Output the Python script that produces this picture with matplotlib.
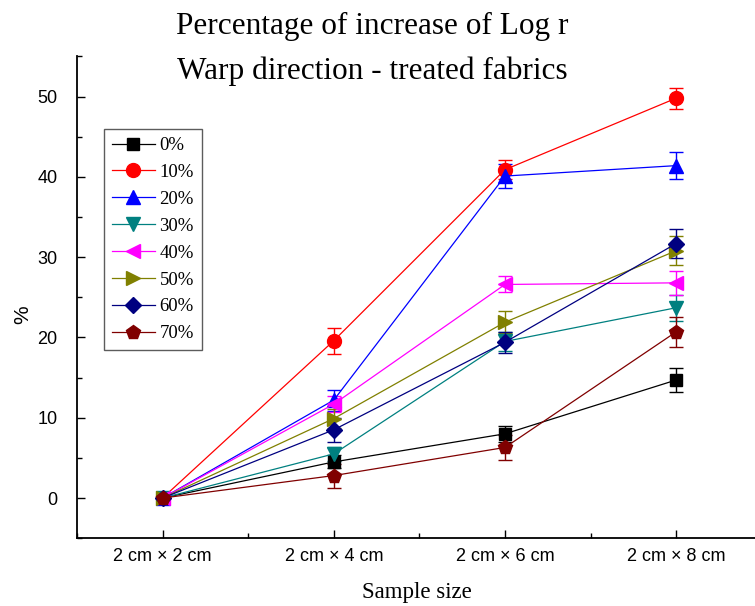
import matplotlib.pyplot as plt
import numpy as np
from matplotlib.lines import Line2D
from matplotlib.ticker import MultipleLocator

# Sample sizes (x categories) and the increase of log r per treatment level
sizes = ["2 cm × 2 cm", "2 cm × 4 cm", "2 cm × 6 cm", "2 cm × 8 cm"]
labels = ["0%", "10%", "20%", "30%", "40%", "50%", "60%", "70%"]

vals_0 = [0, 4.5, 8.0, 14.7]
vals_10 = [0, 19.6, 40.9, 49.8]
vals_20 = [0, 12.2, 40.1, 41.4]
vals_30 = [0, 5.5, 19.5, 23.7]
vals_40 = [0, 11.7, 26.6, 26.8]
vals_50 = [0, 9.9, 21.9, 30.8]
vals_60 = [0, 8.5, 19.4, 31.7]
vals_70 = [0, 2.8, 6.3, 20.7]

err_0 = [0, 0.8, 1.0, 1.5]
err_10 = [0, 1.6, 1.2, 1.3]
err_20 = [0, 1.3, 1.5, 1.7]
err_30 = [0, 0.9, 1.2, 1.6]
err_40 = [0, 1.0, 1.0, 1.5]
err_50 = [0, 1.2, 1.4, 1.8]
err_60 = [0, 1.5, 1.3, 1.8]
err_70 = [0, 1.5, 1.6, 1.9]

series = [vals_0, vals_10, vals_20, vals_30, vals_40, vals_50, vals_60, vals_70]
errors = [err_0, err_10, err_20, err_30, err_40, err_50, err_60, err_70]
colors = ["#000000", "#FF0000", "#0000FF", "#008080",
          "#FF00FF", "#808000", "#000080", "#800000"]
markers = ["s", "o", "^", "v", "<", ">", "D", "p"]
msizes = [8.5, 10, 10, 10, 10, 10, 8, 10]

fig = plt.figure(figsize=(7.55, 6.06), dpi=100)
ax = fig.add_axes([0.102, 0.1119, 0.907, 0.795])

x = np.arange(len(sizes))
handles = []
for vals, err, c, m, ms, lab in zip(series, errors, colors, markers, msizes, labels):
    ax.errorbar(x, vals, yerr=err, color=c, marker=m, markersize=ms,
                linewidth=0.9, elinewidth=1.0, capsize=5, capthick=1.0)
    # legend entries show only line + marker, no error bars
    handles.append(Line2D([], [], color=c, marker=m, markersize=ms,
                          linewidth=0.9, label=lab))

ax.set_xlim(-0.5, 3.5)
ax.set_ylim(-5, 55)
ax.set_xticks(x)
ax.set_xticklabels(sizes, family="Liberation Sans", fontsize=13)
ax.xaxis.set_minor_locator(MultipleLocator(0.5))
ax.yaxis.set_minor_locator(MultipleLocator(5))
ax.set_yticks([0, 10, 20, 30, 40, 50])
for t in ax.get_yticklabels():
    t.set_family("Liberation Sans")
    t.set_fontsize(13)
ax.tick_params(which="major", direction="in", length=6, width=1.0)
ax.tick_params(which="minor", direction="in", length=3.5, width=1.0)
ax.tick_params(axis="x", which="major", pad=7)
ax.tick_params(axis="y", which="major", pad=14)

for side in ("top", "right"):
    ax.spines[side].set_visible(False)
for side in ("left", "bottom"):
    ax.spines[side].set_linewidth(1.3)

fig.text(0.552, 0.023, "Sample size", family="Liberation Serif",
         fontsize=16.5, ha="center", va="center")
fig.text(0.030, 0.480, "%", family="Liberation Sans", fontsize=15,
         ha="center", va="center", rotation=90)

leg = ax.legend(handles=handles, loc="upper left", bbox_to_anchor=(0.039, 0.849),
                prop={"family": "Liberation Serif", "size": 13.5},
                frameon=True, fancybox=False, edgecolor="#333333",
                handlelength=2.3, handletextpad=0.25, labelspacing=0.52,
                borderpad=0.42, borderaxespad=0)
leg.get_frame().set_linewidth(1.0)

fig.text(0.493, 0.957, "Percentage of increase of Log r",
         family="Liberation Serif", fontsize=22.5, ha="center", va="center")
fig.text(0.493, 0.882, "Warp direction - treated fabrics",
         family="Liberation Serif", fontsize=22.5, ha="center", va="center")

fig.savefig("out.png", dpi=100)
